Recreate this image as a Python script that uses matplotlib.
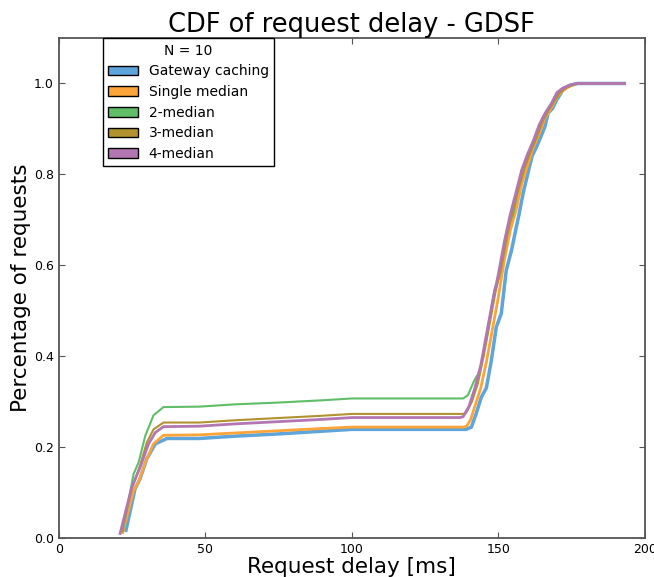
import matplotlib
matplotlib.use("Agg")
import matplotlib.pyplot as plt
from matplotlib.patches import Patch

# delay [ms] / cumulative fraction
gw_x = [22.9, 26, 27.7, 30, 32.9, 36.9, 48, 60, 75, 90, 100, 139, 140.8, 142.5, 144.2, 145.9,
        147.6, 149.3, 151, 152.7, 154.5, 156, 157, 158.5, 160, 161.5, 163, 164, 165.9, 167,
        168.5, 170, 172, 174, 177, 193]
gw_y = [0.017, 0.108, 0.13, 0.174, 0.207, 0.219, 0.219, 0.224, 0.229, 0.235, 0.239, 0.239, 0.244,
        0.275, 0.31, 0.33, 0.39, 0.464, 0.494, 0.589, 0.633, 0.68, 0.71, 0.76, 0.8, 0.84, 0.86,
        0.875, 0.905, 0.935, 0.945, 0.965, 0.985, 0.995, 1.0, 1.0]

single_x = [21.8, 25.5, 27.2, 29.5, 32.3, 35.7, 48, 60, 75, 90, 100, 138, 139.2, 140.5, 142, 144,
            146, 148, 150, 152, 154, 156, 158, 160, 162, 164, 166, 168, 170, 172, 175, 177, 193]
single_y = [0.012, 0.104, 0.123, 0.166, 0.207, 0.226, 0.227, 0.231, 0.236, 0.241, 0.244, 0.244,
            0.246, 0.26, 0.29, 0.33, 0.39, 0.46, 0.53, 0.61, 0.675, 0.72, 0.78, 0.82, 0.86, 0.89,
            0.925, 0.945, 0.97, 0.985, 0.996, 1.0, 1.0]

med2_x = [21.8, 25.5, 27.2, 29.5, 32.3, 35.7, 48, 60, 75, 90, 100, 138, 139.6, 141.8, 143.5, 145.2,
          146.9, 148.6, 150.3, 152, 153.5, 155, 156.5, 158, 159.5, 161, 162.5, 164, 165.5, 167,
          168.5, 170, 172, 175, 177, 193]
med2_y = [0.015, 0.141, 0.166, 0.225, 0.27, 0.288, 0.289, 0.294, 0.298, 0.303, 0.307, 0.307, 0.314,
          0.347, 0.365, 0.413, 0.473, 0.545, 0.574, 0.633, 0.69, 0.71, 0.76, 0.81, 0.83, 0.85,
          0.875, 0.9, 0.925, 0.94, 0.955, 0.975, 0.99, 0.997, 1.0, 1.0]

med3_x = [21.5, 24.9, 27.7, 30, 32.3, 35.7, 48, 60, 75, 90, 100, 138, 139, 141, 143, 145, 147, 149,
          151, 153, 155, 157, 159, 161, 163, 165, 167, 169, 171, 173, 176, 178, 193]
med3_y = [0.015, 0.108, 0.159, 0.21, 0.239, 0.254, 0.254, 0.259, 0.264, 0.269, 0.273, 0.273, 0.275,
          0.3, 0.34, 0.4, 0.47, 0.54, 0.595, 0.665, 0.72, 0.77, 0.815, 0.85, 0.88, 0.915, 0.94,
          0.96, 0.98, 0.99, 0.998, 1.0, 1.0]

med4_x = [20.9, 24.9, 27.7, 30.6, 32.9, 35.7, 48, 60, 75, 90, 100, 137, 138, 140, 142, 144, 146,
          148, 150, 152, 154, 156, 158, 160, 162, 164, 166, 168, 170, 172, 175, 177, 193]
med4_y = [0.01, 0.112, 0.155, 0.207, 0.232, 0.245, 0.246, 0.251, 0.256, 0.261, 0.265, 0.265, 0.267,
          0.29, 0.33, 0.38, 0.45, 0.52, 0.58, 0.65, 0.71, 0.76, 0.81, 0.845, 0.875, 0.91, 0.935,
          0.955, 0.98, 0.99, 0.998, 1.0, 1.0]

labels = ["Gateway caching", "Single median", "2-median", "3-median", "4-median"]
colors = ["#5DA5DA", "#FAA43A", "#60BD68", "#B2912F", "#B276B2"]

fig = plt.figure(figsize=(6.54, 5.77), dpi=100)
ax = fig.add_axes([0.09, 0.0676, 0.896, 0.8665])

series = [(gw_x, gw_y), (single_x, single_y), (med2_x, med2_y), (med3_x, med3_y), (med4_x, med4_y)]
widths = [2.5, 2.0, 1.5, 1.5, 2.0]
for (xs, ys), c, lw in zip(series, colors, widths):
    ax.plot(xs, ys, color=c, linewidth=lw)

ax.set_xlim(0, 200)
ax.set_ylim(0, 1.1)
ax.set_xticks([0, 50, 100, 150, 200])
ax.set_yticks([0.0, 0.2, 0.4, 0.6, 0.8, 1.0])
ax.set_yticklabels(["0.0", "0.2", "0.4", "0.6", "0.8", "1.0"])
ax.tick_params(direction="in", top=True, right=True, labelsize=9, length=4, color="#555555")
for s in ax.spines.values():
    s.set_color("#555555")
    s.set_linewidth(1.3)

ax.set_title("CDF of request delay - GDSF", fontsize=18.5, pad=4)
ax.set_xlabel("Request delay [ms]", fontsize=15.5, labelpad=1)
ax.set_ylabel("Percentage of requests", fontsize=15.5, labelpad=2)

handles = [Patch(facecolor=c, edgecolor="black", linewidth=1) for c in colors]
leg = ax.legend(handles, labels, title="N = 10", loc="upper left", bbox_to_anchor=(0.075, 1.0),
                fontsize=10, title_fontsize=10, fancybox=False, framealpha=1,
                borderaxespad=0.0, handlelength=2.1, labelspacing=0.48)
leg.get_frame().set_edgecolor("black")

fig.savefig("out.png", dpi=100)
